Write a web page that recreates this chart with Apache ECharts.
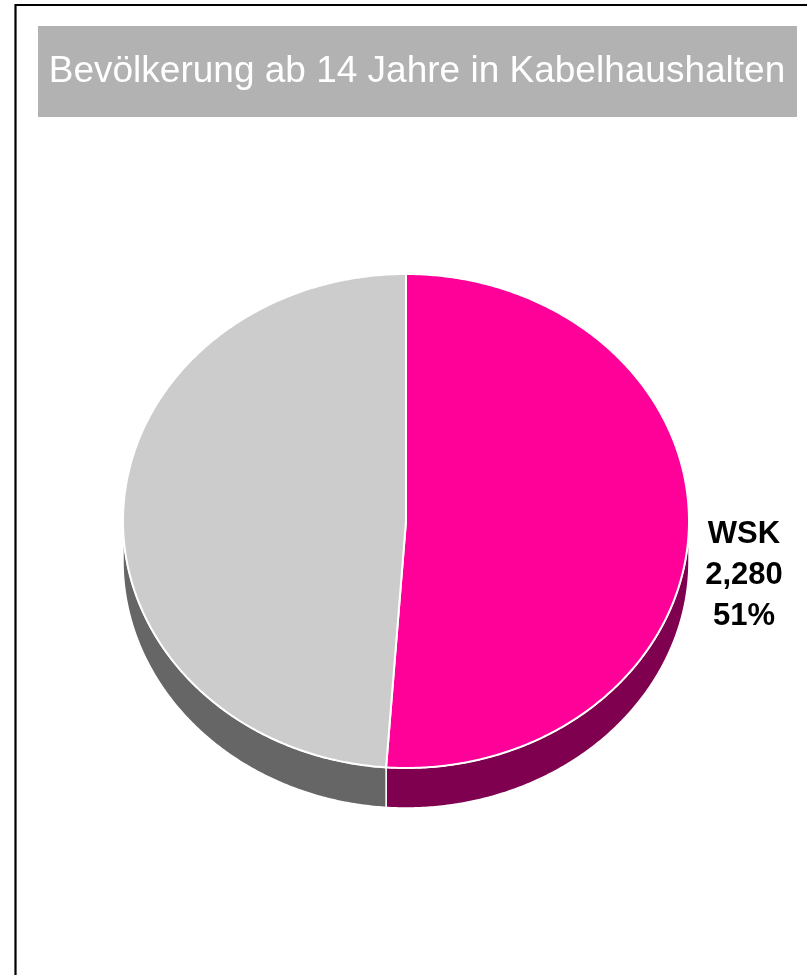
<!DOCTYPE html>
<html>
<head>
<meta charset="utf-8">
<script src="https://cdn.jsdelivr.net/npm/echarts@6/dist/echarts.min.js"></script>
<style>
  html, body { margin: 0; padding: 0; background: #ffffff; overflow: hidden; }
  #chart { width: 807px; height: 975px; }
</style>
</head>
<body>
<div id="chart"></div>
<script>
// ---- data ----
const titleText = 'Bevölkerung ab 14 Jahre in Kabelhaushalten';
const sliceNames = ['WSK', 'Andere'];
const sliceValues = [2280, 2180];
const showLabel = [true, false];
const topColors = ['#FF0099', '#CCCCCC'];
const sideColors = ['#800050', '#666666'];

// ---- geometry (layout only) ----
const CX = 406, CY = 521, RX = 283, RY = 247, DEPTH = 40;
const total = sliceValues.reduce((a, b) => a + b, 0);
const startFrac = [];
{
  let acc = 0;
  for (const v of sliceValues) { startFrac.push(acc / total); acc += v; }
}
function pt(deg, dy) {
  const r = deg * Math.PI / 180;
  return [CX + RX * Math.sin(r), CY - RY * Math.cos(r) + (dy || 0)];
}
function arc(a, b, dy) {
  const pts = [];
  const n = Math.max(2, Math.ceil(Math.abs(b - a) / 0.5));
  for (let i = 0; i <= n; i++) pts.push(pt(a + (b - a) * i / n, dy));
  return pts;
}
function fmt(v) { return v.toLocaleString('en-US'); }

const chart = echarts.init(document.getElementById('chart'), null, { renderer: 'canvas' });

chart.setOption({
  animation: false,
  graphic: [
    { type: 'rect', shape: { x: 15.5, y: 5, width: 1000, height: 1000 },
      style: { fill: 'none', stroke: '#000000', lineWidth: 2.2 }, z: 0 },
    { type: 'rect', shape: { x: 38, y: 26, width: 759, height: 91 },
      style: { fill: '#B2B2B2' }, z: 1 },
    { type: 'text', x: 417, y: 72, z: 2,
      style: { text: titleText, fill: '#FFFFFF', font: '37px "Liberation Sans", Arial, sans-serif',
               align: 'center', verticalAlign: 'middle' } }
  ],
  series: [{
    type: 'custom',
    coordinateSystem: 'none',
    data: sliceValues.map((v, i) => ({ name: sliceNames[i], value: v })),
    renderItem: function (params, api) {
      const i = params.dataIndex;
      const v = api.value(0);
      const a = startFrac[i] * 360;
      const b = a + v / total * 360;
      const children = [];
      // visible side: lower half of ellipse (90..270 deg)
      const sa = Math.max(a, 90), sb = Math.min(b, 270);
      if (sb > sa) {
        const top = arc(sa, sb, 0);
        const bottom = arc(sb, sa, DEPTH);
        children.push({
          type: 'polygon', z2: 1,
          shape: { points: top.concat(bottom) },
          style: { fill: sideColors[i], stroke: '#FFFFFF', lineWidth: 1.5, lineJoin: 'round' }
        });
      }
      children.push({
        type: 'polygon', z2: 10,
        shape: { points: [[CX, CY]].concat(arc(a, b, 0)) },
        style: { fill: topColors[i], stroke: '#FFFFFF', lineWidth: 2, lineJoin: 'round' }
      });
      if (showLabel[i]) {
        const mid = (a + b) / 2;
        const p = pt(mid, 0);
        const right = Math.sin(mid * Math.PI / 180) >= 0;
        const pct = Math.round(v / total * 100) + '%';
        children.push({
          type: 'text', z2: 20,
          x: right ? CX + RX + 55 : CX - RX - 55,
          y: p[1] + 46,
          style: {
            text: sliceNames[i] + '\n' + fmt(v) + '\n' + pct,
            fill: '#000000',
            font: 'bold 31px "Liberation Sans", Arial, sans-serif',
            lineHeight: 41,
            align: 'center', verticalAlign: 'middle'
          }
        });
      }
      return { type: 'group', children: children };
    }
  }]
});
</script>
</body>
</html>
